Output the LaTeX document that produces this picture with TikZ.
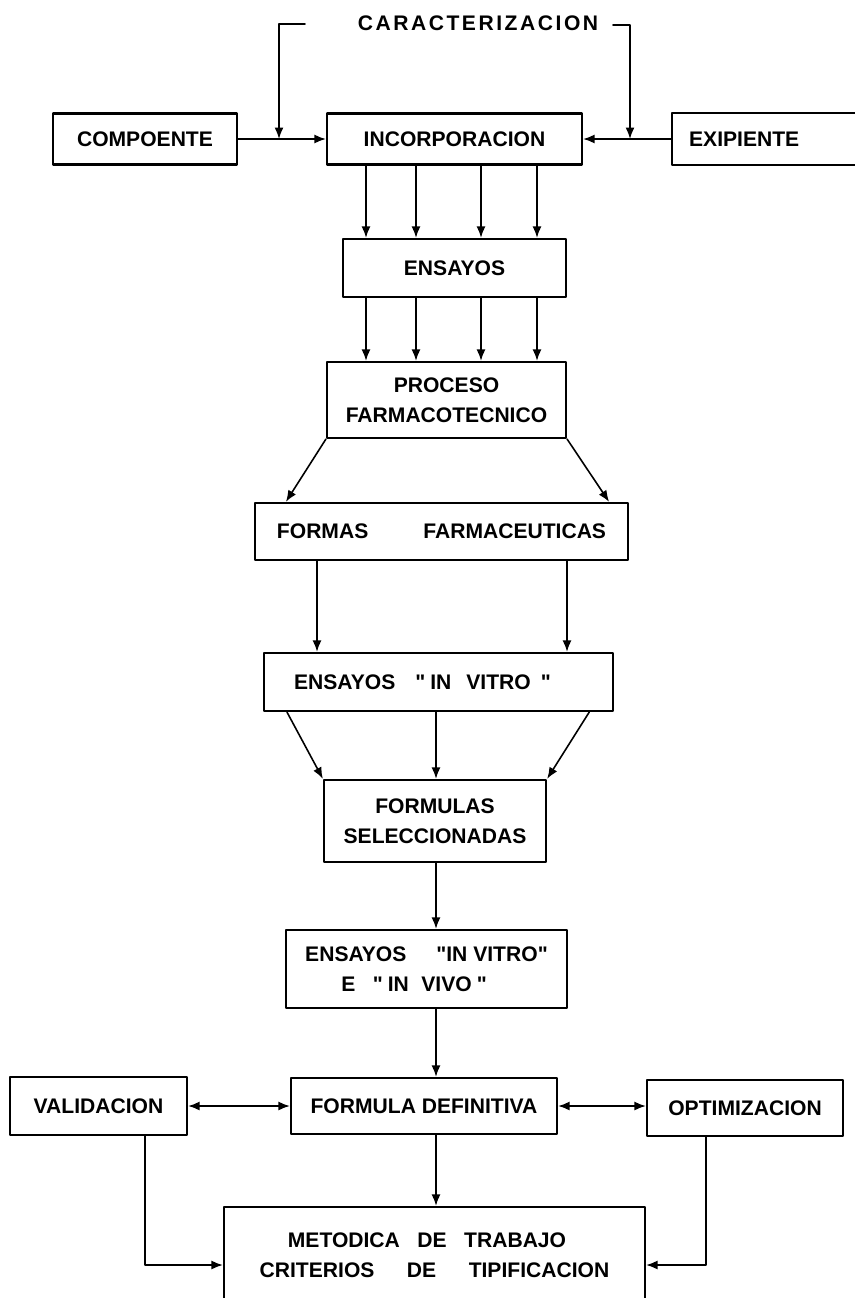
\documentclass[tikz,border=0pt]{standalone}
\usepackage{fontspec}
\setmainfont{Liberation Sans}
\usetikzlibrary{arrows.meta}
\newcommand{\qd}{\textquotedbl}
\begin{document}
\begin{tikzpicture}[x=.02cm,y=-.02cm,line join=round,line cap=round,
>={Latex[length=2.3mm,width=1.8mm]},
txt/.style={font=\bfseries\fontsize{12}{17}\selectfont},
box/.style={txt,draw,line width=1.3pt,inner sep=0pt,align=center},
con/.style={->,line width=.9pt}]
\useasboundingbox (0,0) rectangle (855,1298);
\path (478,23) node[txt] (cara) {\addfontfeature{LetterSpace=12}CARACTERIZACION}
(145,139) node[box,minimum width=3.68cm,minimum height=1.02cm] (comp) {COMPOENTE}
(454.5,139) node[box,minimum width=5.1cm,minimum height=1.02cm] (inc) {INCORPORACION}
(671,139) node[box,anchor=west,text width=3.3cm,inner xsep=.34cm,minimum height=1.04cm,align=left] (exi) {EXIPIENTE}
(454.5,268) node[box,minimum width=4.46cm,minimum height=1.16cm] (ens) {ENSAYOS}
(446.5,400) node[box,minimum width=4.78cm,minimum height=1.52cm] (proc) {PROCESO\\FARMACOTECNICO}
(441.5,531.5) node[box,minimum width=7.46cm,minimum height=1.14cm] (formas) {FORMAS\hspace{1.1cm}FARMACEUTICAS}
(263,682) node[box,anchor=west,text width=5.78cm,inner xsep=.6cm,minimum height=1.16cm,align=left] (vitro) {ENSAYOS\hspace{.4cm}\qd\hspace{.1cm}IN\hspace{.3cm}VITRO\hspace{.2cm}\qd}
(435,821) node[box,minimum width=4.44cm,minimum height=1.64cm] (formsel) {FORMULAS\\SELECCIONADAS}
(426.5,969) node[box,minimum width=5.62cm,minimum height=1.56cm] (vivo) {ENSAYOS\hspace{.6cm}\qd IN VITRO\qd\\E\hspace{.35cm}\qd\hspace{.1cm}IN\hspace{.25cm}VIVO\hspace{.1cm}\qd\hspace*{.5cm}}
(424,1106) node[box,minimum width=5.32cm,minimum height=1.12cm] (fdef) {FORMULA DEFINITIVA}
(98.5,1106) node[box,minimum width=3.54cm,minimum height=1.16cm] (val) {VALIDACION}
(745,1108) node[box,minimum width=3.92cm,minimum height=1.12cm] (opt) {OPTIMIZACION}
(434.5,1255) node[box,minimum width=8.42cm,minimum height=1.92cm] (met) {METODICA\hspace{.35cm}DE\hspace{.35cm}TRABAJO\hspace*{.3cm}\\CRITERIOS\hspace{.65cm}DE\hspace{.65cm}TIPIFICACION}
;
% bracket of the caracterizacion
\coordinate (tl) at (305,24);
\coordinate (tr) at (613,25);
\coordinate (jl) at (279,139);
\coordinate (jr) at (630,139);
\draw[con] (comp) -- (inc);
\draw[con] (exi.west) -- (inc.east);
\draw[con] (tl) -| (jl);
\draw[con] (tr) -| (jr);
% vertical bundles
\foreach \x [count=\i] in {366,416,481,537} {
\coordinate (v\i) at (\x,0);
\draw[con] (v\i |- inc.south) -- (v\i |- ens.north);
\draw[con] (v\i |- ens.south) -- (v\i |- proc.north);
}
\draw[con] (proc.south west) -- ([xshift=.64cm]formas.north west);
\draw[con] (proc.south east) -- ([xshift=-.4cm]formas.north east);
\coordinate (fl) at (317,0);
\coordinate (fr) at (567,0);
\draw[con] (fl |- formas.south) -- (fl |- vitro.north);
\draw[con] (fr |- formas.south) -- (fr |- vitro.north);
\coordinate (ax) at (436,0);
\draw[con] ([xshift=.48cm]vitro.south west) -- (formsel.north west);
\draw[con] (ax |- vitro.south) -- (ax |- formsel.north);
\draw[con] ([xshift=-.5cm]vitro.south east) -- (formsel.north east);
\draw[con] (ax |- formsel.south) -- (ax |- vivo.north);
\draw[con] (ax |- vivo.south) -- (ax |- fdef.north);
\draw[con] (ax |- fdef.south) -- (ax |- met.north);
\draw[con,<->] (val.east) -- (fdef.west);
\draw[con,<->] (fdef.east) -- (fdef.east -| opt.west);
\draw[con] ([xshift=.93cm]val.south) |- ([yshift=-.2cm]met.west);
\draw[con] ([xshift=-.78cm]opt.south) |- ([yshift=-.2cm]met.east);
\end{tikzpicture}
\end{document}
